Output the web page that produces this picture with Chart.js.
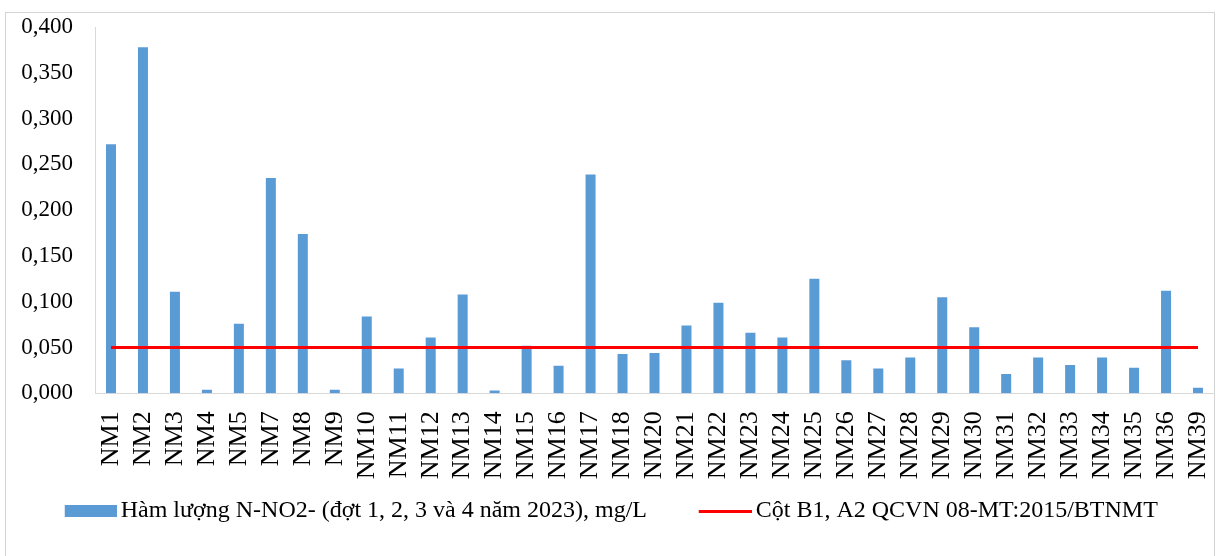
<!DOCTYPE html>
<html>
<head>
<meta charset="utf-8">
<script src="https://cdn.jsdelivr.net/npm/chart.js@4.4.1/dist/chart.umd.min.js"></script>
<style>
  html, body { margin: 0; padding: 0; background: #fff; }
  body { width: 1216px; height: 556px; position: relative; overflow: hidden; }
  #frame { position: absolute; left: 5px; top: 12px; width: 1210px; height: 560px;
           border: 1px solid #d4d4d4; box-sizing: border-box; }
  #wrap { position: absolute; left: 0; top: 0; width: 1216px; height: 556px; }
</style>
</head>
<body>
<div id="frame"></div>
<div id="wrap"><canvas id="chart"></canvas></div>
<script>
// Monitoring points
const categories = ['NM1','NM2','NM3','NM4','NM5','NM7','NM8','NM9','NM10','NM11','NM12','NM13','NM14','NM15','NM16','NM17','NM18','NM20','NM21','NM22','NM23','NM24','NM25','NM26','NM27','NM28','NM29','NM30','NM31','NM32','NM33','NM34','NM35','NM36','NM39'];

// N-NO2- content, mg/L
const nitriteValues = [0.272, 0.378, 0.111, 0.004, 0.076, 0.235, 0.174, 0.004, 0.084, 0.027, 0.061, 0.108, 0.003, 0.052, 0.030, 0.239, 0.043, 0.044, 0.074, 0.099, 0.066, 0.061, 0.125, 0.036, 0.027, 0.039, 0.105, 0.072, 0.021, 0.039, 0.031, 0.039, 0.028, 0.112, 0.006];

// QCVN 08-MT:2015/BTNMT column B1, A2 limit
const limitValues = [0.05, 0.05, 0.05, 0.05, 0.05, 0.05, 0.05, 0.05, 0.05, 0.05, 0.05, 0.05, 0.05, 0.05, 0.05, 0.05, 0.05, 0.05, 0.05, 0.05, 0.05, 0.05, 0.05, 0.05, 0.05, 0.05, 0.05, 0.05, 0.05, 0.05, 0.05, 0.05, 0.05, 0.05, 0.05];

// Y axis range
const yMin = 0;
const yMax = 0.4;
const yStep = 0.05;

const seriesLabels = ['Hàm lượng N-NO2- (đợt 1, 2, 3 và 4 năm 2023), mg/L', 'Cột B1, A2 QCVN 08-MT:2015/BTNMT'];

const BAR_BLUE = '#5B9BD5';
const LIMIT_RED = '#FF0000';
const FONT = '"Liberation Serif", "Times New Roman", serif';

// Legend markers: the visible swatch sits at the right end of the canvas,
// so it ends just before the label text.
const MARKER_W = 95;
function makeMarker(swatchW, swatchH, color) {
  const c = document.createElement('canvas');
  c.width = MARKER_W; c.height = swatchH;
  const g = c.getContext('2d');
  g.fillStyle = color;
  g.fillRect(MARKER_W - swatchW, 0, swatchW, swatchH);
  return c;
}
const barMarker = makeMarker(52, 12, BAR_BLUE);
const lineMarker = makeMarker(53, 3, LIMIT_RED);

const ctx = document.getElementById('chart');
new Chart(ctx, {
  data: {
    labels: categories,
    datasets: [
      {
        type: 'bar',
        label: seriesLabels[0],
        data: nitriteValues,
        backgroundColor: BAR_BLUE,
        borderWidth: 0,
        categoryPercentage: 1.0,
        barPercentage: 0.313,
        order: 1
      },
      {
        type: 'line',
        label: seriesLabels[1],
        data: limitValues,
        borderColor: LIMIT_RED,
        backgroundColor: LIMIT_RED,
        borderWidth: 3,
        pointRadius: 0,
        pointHoverRadius: 0,
        fill: false,
        tension: 0,
        order: 0
      }
    ]
  },
  options: {
    responsive: true,
    maintainAspectRatio: false,
    animation: false,
    events: [],
    layout: { padding: { left: 12, right: 2, top: 27, bottom: 23 } },
    scales: {
      x: {
        type: 'category',
        offset: true,
        grid: { display: false, drawTicks: false },
        border: { display: true, color: '#d9d9d9', width: 1 },
        ticks: {
          color: '#000',
          font: { family: FONT, size: 26 },
          maxRotation: 90,
          minRotation: 90,
          autoSkip: false,
          padding: 18
        },
        afterFit(scale) {
          scale.height = 88;
          scale.paddingLeft = 0;
          scale.paddingRight = 0;
        }
      },
      y: {
        min: yMin,
        max: yMax,
        grid: { display: false, drawTicks: false },
        border: { display: true, color: '#d9d9d9', width: 1 },
        ticks: {
          stepSize: yStep,
          color: '#000',
          font: { family: FONT, size: 23 },
          padding: 22,
          callback: (v) => Number(v).toFixed(3).replace('.', ',')
        },
        afterFit(scale) {
          scale.width = 83;
          scale.paddingTop = 0;
          scale.paddingBottom = 0;
        }
      }
    },
    plugins: {
      tooltip: { enabled: false },
      legend: {
        position: 'bottom',
        align: 'start',
        labels: {
          color: '#000',
          font: { family: FONT, size: 24 },
          usePointStyle: true,
          pointStyleWidth: 79,
          padding: 17.7,
          sort: (a, b) => a.datasetIndex - b.datasetIndex,
          generateLabels(chart) {
            const items = Chart.defaults.plugins.legend.labels.generateLabels(chart);
            items.forEach(it => {
              it.pointStyle = it.datasetIndex === 0 ? barMarker : lineMarker;
            });
            return items;
          }
        }
      }
    }
  }
});
</script>
</body>
</html>
